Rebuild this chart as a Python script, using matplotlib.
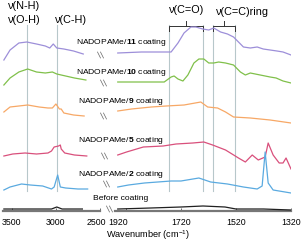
import matplotlib
matplotlib.use('Agg')
import matplotlib.pyplot as plt
import matplotlib.transforms as mtransforms
from matplotlib.lines import Line2D

plt.rcParams['font.family'] = ['Liberation Sans', 'DejaVu Sans']
plt.rcParams['mathtext.fontset'] = 'custom'
plt.rcParams['mathtext.rm'] = 'Liberation Sans'
plt.rcParams['mathtext.bf'] = 'Liberation Sans:bold'

# spectra, offset absorbance (a.u.), left window 3600-2500 cm-1, right window 1960-1320 cm-1
wn_l11 = [3590, 3520, 3420, 3330, 3220, 3120, 3070, 3030, 2990, 2910, 2800, 2690]
ab_l11 = [151, 161, 168, 169, 167, 165, 163, 167, 163, 162, 160, 157]
wn_r11 = [1950, 1864, 1774, 1756, 1731, 1709, 1684, 1666, 1641, 1619, 1601, 1576, 1551, 1529,
          1511, 1493, 1468, 1443, 1421, 1396, 1371, 1349, 1320]
ab_r11 = [158, 159, 159, 159, 168, 178, 184, 184, 182, 181, 183, 179, 177, 174,
          169, 164, 163, 164, 162, 161, 160, 159, 156]

wn_l10 = [3590, 3520, 3420, 3320, 3220, 3120, 3040, 2990, 2890, 2790, 2660]
ab_l10 = [126, 133, 139, 142, 139, 138, 139, 137, 135, 133, 131]
wn_r10 = [1950, 1781, 1756, 1745, 1731, 1713, 1695, 1673, 1655, 1637, 1619, 1601, 1583, 1558,
          1529, 1504, 1486, 1468, 1432, 1396, 1374, 1349, 1320]
ab_r10 = [129, 129, 134, 135, 132, 130, 136, 148, 152, 152, 148, 148, 149, 148,
          146, 139, 136, 138, 136, 134, 133, 130, 128]

wn_l9 = [3590, 3520, 3420, 3320, 3190, 3090, 3040, 3000, 2960, 2940, 2910, 2800, 2680]
ab_l9 = [99, 104, 105, 106, 104, 103, 103, 107, 102, 102, 98, 96, 95]
wn_r9 = [1950, 1900, 1828, 1774, 1709, 1648, 1623, 1587, 1558, 1529, 1468, 1396, 1320]
ab_r9 = [100, 102, 104, 105, 106, 109, 104, 103, 99, 94, 93, 91, 88]

wn_l5 = [3590, 3490, 3350, 3220, 3090, 3050, 3020, 2970, 2950, 2940, 2900, 2790, 2650]
ab_l5 = [55, 57, 58, 57, 58, 60, 64, 65, 66, 62, 58, 56, 55]
wn_r5 = [1950, 1918, 1857, 1785, 1738, 1677, 1637, 1605, 1558, 1511, 1486, 1461, 1439, 1414,
          1403, 1385, 1363, 1349, 1338, 1320]
ab_r5 = [56, 59, 64, 65, 67, 68, 69, 66, 61, 53, 49, 56, 51, 54, 68, 56, 48, 48, 53, 42]

wn_l2 = [3590, 3520, 3390, 3290, 3150, 3050, 3020, 2980, 2950, 2890, 2750, 2640]
ab_l2 = [21, 24, 27, 26, 25, 22, 24, 36, 24, 23, 22, 22]
wn_r2 = [1950, 1911, 1853, 1756, 1720, 1655, 1612, 1551, 1493, 1443, 1425, 1414, 1403, 1385, 1320]
ab_r2 = [24, 26, 28, 30, 30, 33, 29, 27, 24, 22, 25, 59, 28, 21, 18]

wn_l0 = [3590, 3300, 3050, 2990, 2930, 2700]
ab_l0 = [2, 2, 2, 4, 2, 2]
wn_r0 = [1950, 1830, 1720, 1640, 1560, 1520, 1420, 1320]
ab_r0 = [2, 3, 4, 5, 4, 2, 2, 1]

colors = ['#9d8fd9', '#80c04a', '#f7a866', '#d9507c', '#5aaae0', '#202020']
labels_num = ['11', '10', '9', '5', '2']

guide_left = [3330, 2990]
guide_right = [1765, 1640, 1605, 1525]
xt_left = [3500, 3000, 2500]
xt_right = [1920, 1720, 1520, 1320]

W, H = 306, 241
fig = plt.figure(figsize=(W / 100, H / 100), dpi=100)


def fx(px):
    return px / W


def fy(py):
    return 1 - py / H


bot = fy(211)
axl = fig.add_axes([fx(3), bot, fx(100) - fx(3), 1 - bot])
axr = fig.add_axes([fx(115), bot, fx(291) - fx(115), 1 - bot])

series_l = [(wn_l11, ab_l11), (wn_l10, ab_l10), (wn_l9, ab_l9), (wn_l5, ab_l5), (wn_l2, ab_l2), (wn_l0, ab_l0)]
series_r = [(wn_r11, ab_r11), (wn_r10, ab_r10), (wn_r9, ab_r9), (wn_r5, ab_r5), (wn_r2, ab_r2), (wn_r0, ab_r0)]

for ax, g in [(axl, guide_left), (axr, guide_right)]:
    for w in g:
        ax.plot([w, w], [20, 186], color='#b7c7ca', lw=0.8, zorder=1)

for (x, y), c in zip(series_l, colors):
    axl.plot(x, y, color=c, lw=0.9, zorder=3)
for (x, y), c in zip(series_r, colors):
    axr.plot(x, y, color=c, lw=0.9, zorder=3)

axl.set_xlim(3600, 2500)
axr.set_xlim(1960, 1320)
for ax in (axl, axr):
    ax.set_ylim(0, 211)
    ax.patch.set_alpha(0)
    for s in ['top', 'left', 'right']:
        ax.spines[s].set_visible(False)
    ax.spines['bottom'].set_color('#777777')
    ax.spines['bottom'].set_linewidth(1.6)
    ax.set_yticks([])
    ax.tick_params(axis='x', direction='in', length=2, width=0.6, color='#555555',
                   labelsize=6.3, pad=5)
axl.set_xticks(xt_left)
axr.set_xticks(xt_right)
axl.set_xticklabels([str(t) for t in xt_left])
axr.set_xticklabels([str(t) for t in xt_right])

# the 2500 / 1920 labels sit closer together in the original
for lab, dx in [(axl.get_xticklabels()[-1], -4), (axr.get_xticklabels()[0], -8)]:
    lab.set_transform(lab.get_transform() + mtransforms.ScaledTranslation(dx / 100, 0, fig.dpi_scale_trans))

# brackets
for (a, b) in [(1765, 1640), (1605, 1525)]:
    m = (a + b) / 2
    axr.plot([a, a, b, b], [180, 185, 185, 180], color='#333333', lw=0.7, clip_on=False)
    axr.plot([m, m], [185, 190], color='#333333', lw=0.7, clip_on=False)

fs_top = 7.8
fig.text(fx(8), fy(6), 'ν(N-H)', fontsize=fs_top, va='center', ha='left')
fig.text(fx(8), fy(20), 'ν(O-H)', fontsize=fs_top, va='center', ha='left')
fig.text(fx(55), fy(20), 'ν(C-H)', fontsize=fs_top, va='center', ha='left')
fig.text(fx(187), fy(10), 'ν(C=O)', fontsize=fs_top, va='center', ha='center')
fig.text(fx(216), fy(12), 'ν(C=C)ring', fontsize=fs_top, va='center', ha='left')

lab_y = [43, 72, 101, 140, 175]
lab_x = [76, 76, 78, 78, 78]
for n, x, y in zip(labels_num, lab_x, lab_y):
    fig.text(fx(x), fy(y), 'NADOPAMe/$\\mathbf{' + n + '}$ coating', fontsize=6.1,
             va='center', ha='left')
fig.text(fx(93), fy(199), 'Before coating', fontsize=6.1, va='center', ha='left')

fig.text(fx(148), fy(235), 'Wavenumber (cm$^{-1}$)', fontsize=6.6, va='center', ha='center')

# break marks
breaks = [(99, 55), (102, 83), (102, 116), (103, 156), (105, 184), (108, 209)]
for bx, by in breaks:
    for d in (0, 3):
        fig.add_artist(Line2D([fx(bx + d - 1.5), fx(bx + d + 1.5)], [fy(by - 3), fy(by + 3)],
                              color='#666666', lw=0.5))

fig.savefig('out.png', dpi=100)
